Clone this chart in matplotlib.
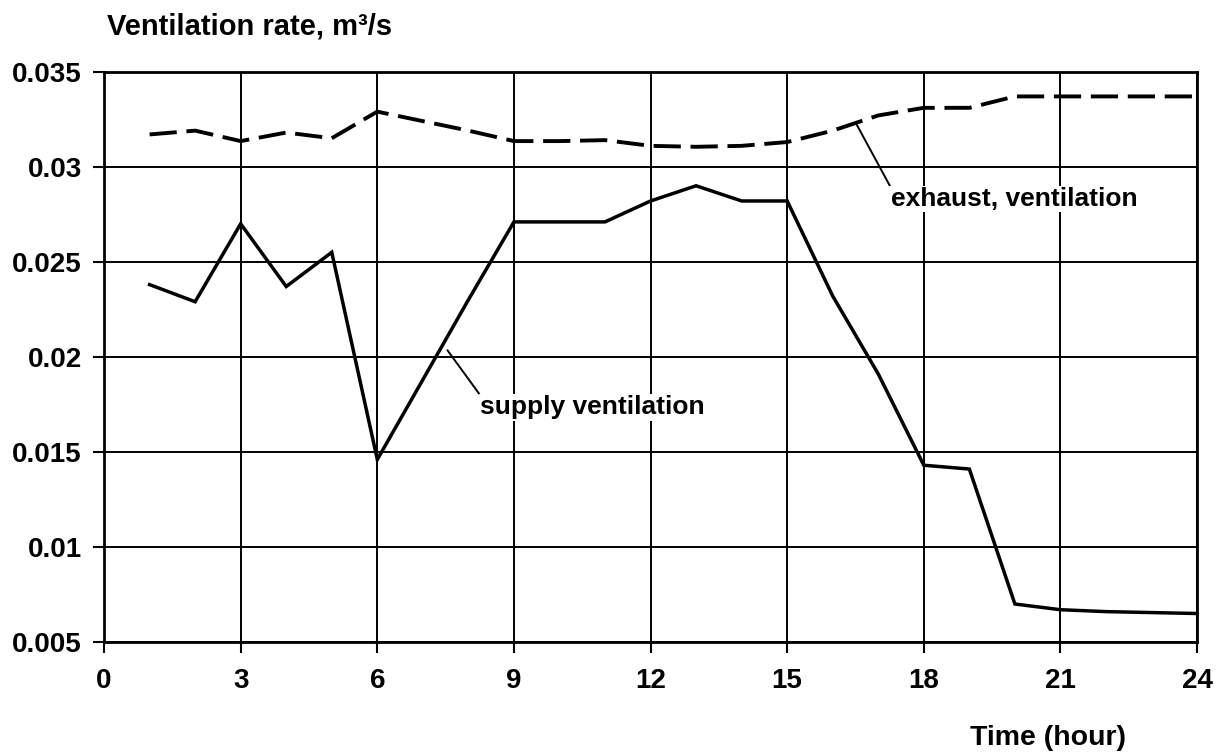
import numpy as np
import matplotlib
matplotlib.use("Agg")
import matplotlib.pyplot as plt

plt.rcParams['font.family'] = ['Liberation Sans', 'DejaVu Sans']
plt.rcParams['font.weight'] = 'bold'

# hourly values
hours = np.arange(1, 25)
supply = [0.0238, 0.0229, 0.0270, 0.0237, 0.0255, 0.0146, 0.0188, 0.0230,
          0.0271, 0.0271, 0.0271, 0.0282, 0.0290, 0.0282, 0.0282, 0.0232,
          0.0191, 0.0143, 0.0141, 0.0070, 0.0067, 0.0066, 0.00655, 0.0065]
exhaust = [0.0317, 0.0319, 0.03135, 0.0318, 0.0315, 0.0329, 0.0324, 0.0319,
           0.03135, 0.03135, 0.0314, 0.0311, 0.03105, 0.0311, 0.0313, 0.0319,
           0.0327, 0.0331, 0.0331, 0.0337, 0.0337, 0.0337, 0.0337, 0.0337]

xticks = [0, 3, 6, 9, 12, 15, 18, 21, 24]
yticks = [0.005, 0.01, 0.015, 0.02, 0.025, 0.03, 0.035]
ytick_labels = ['0.005', '0.01', '0.015', '0.02', '0.025', '0.03', '0.035']

fig = plt.figure(figsize=(12.27, 7.54), dpi=100)
ax = fig.add_axes([0.0848, 0.1485, 0.8908, 0.7564])

ax.plot(hours, supply, color='black', lw=2.5, solid_joinstyle='miter', zorder=3)
ax.plot(hours, exhaust, color='black', lw=2.8, dashes=(7, 2.5), zorder=3)

ax.set_xlim(0, 24)
ax.set_ylim(0.005, 0.035)
ax.set_xticks(xticks)
ax.set_yticks(yticks)
ax.set_yticklabels(ytick_labels)
ax.grid(True, color='black', lw=1.4)
ax.set_axisbelow(True)
for s in ax.spines.values():
    s.set_linewidth(2.0)
ax.tick_params(direction='out', length=8, width=1.5, labelsize=20)
ax.tick_params(axis='y', pad=8)
ax.tick_params(axis='x', pad=11)

# labels with leader lines
ax.annotate('exhaust, ventilation', xy=(16.53, 0.0322), xytext=(17.27, 0.0283),
            fontsize=19, va='center', ha='left',
            bbox=dict(boxstyle='square,pad=0.05', fc='white', ec='none'),
            arrowprops=dict(arrowstyle='-', color='black', lw=1.4,
                            shrinkA=0, shrinkB=0, relpos=(0, 1)), zorder=4)
ax.annotate('supply ventilation', xy=(7.54, 0.02035), xytext=(8.26, 0.01735),
            fontsize=19, va='center', ha='left',
            bbox=dict(boxstyle='square,pad=0.05', fc='white', ec='none'),
            arrowprops=dict(arrowstyle='-', color='black', lw=1.4,
                            shrinkA=0, shrinkB=0, relpos=(0, 1)), zorder=4)

fig.text(0.087, 0.9655, 'Ventilation rate, m³/s', fontsize=21, ha='left', va='center')
fig.text(0.7905, 0.021, 'Time (hour)', fontsize=20.5, ha='left', va='center')

fig.savefig('out.png', dpi=100)
